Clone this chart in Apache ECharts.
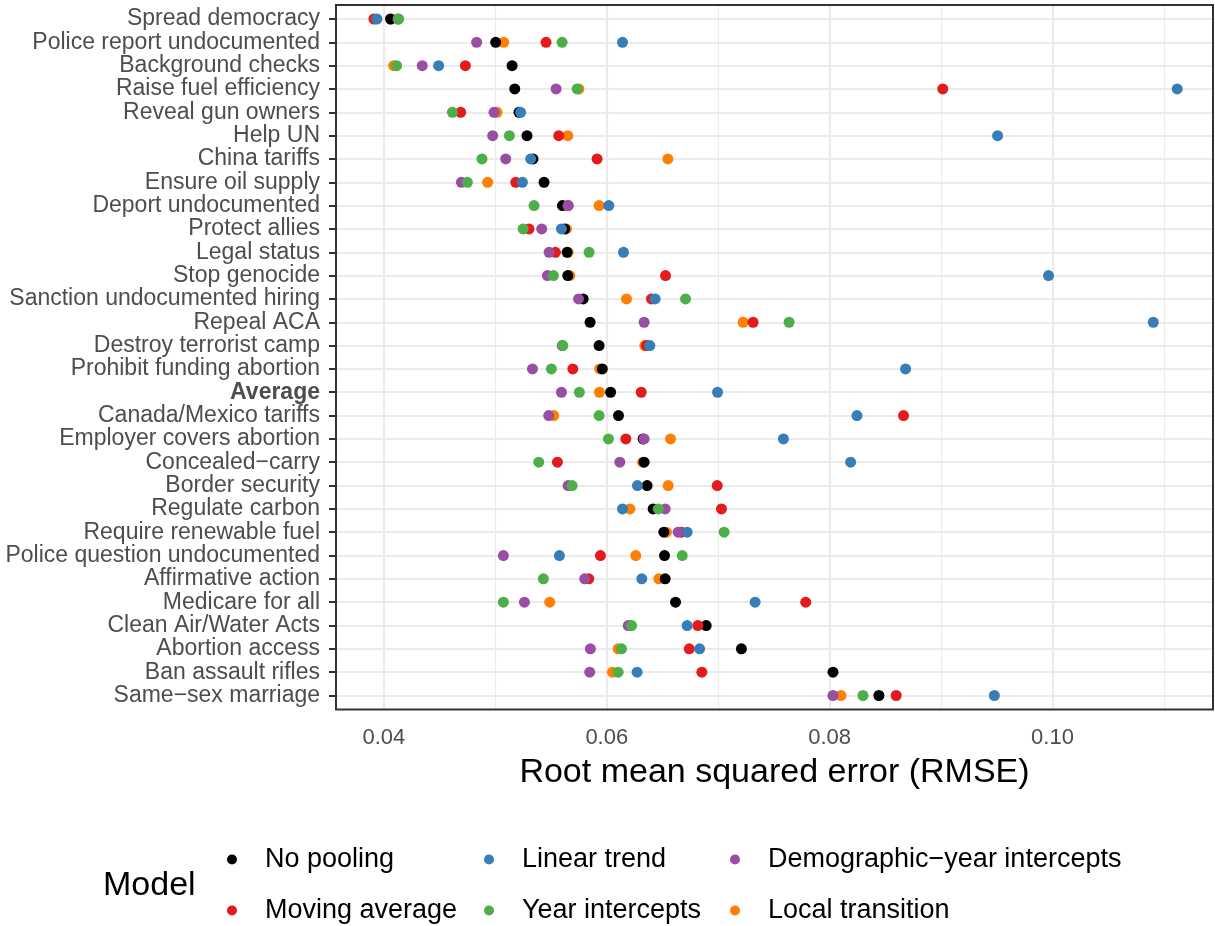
<!DOCTYPE html>
<html>
<head>
<meta charset="utf-8">
<script src="https://cdn.jsdelivr.net/npm/echarts@6/dist/echarts.min.js"></script>
<style>
html,body{margin:0;padding:0;background:#fff;}
#chart{width:1215px;height:926px;}
</style>
</head>
<body>
<div id="chart"></div>
<script>
// ---------- data ----------
const categories = [
  "Spread democracy","Police report undocumented","Background checks","Raise fuel efficiency",
  "Reveal gun owners","Help UN","China tariffs","Ensure oil supply","Deport undocumented",
  "Protect allies","Legal status","Stop genocide","Sanction undocumented hiring","Repeal ACA",
  "Destroy terrorist camp","Prohibit funding abortion","Average","Canada/Mexico tariffs",
  "Employer covers abortion","Concealed\u2212carry","Border security","Regulate carbon",
  "Require renewable fuel","Police question undocumented","Affirmative action","Medicare for all",
  "Clean Air/Water Acts","Abortion access","Ban assault rifles","Same\u2212sex marriage"
];
const noPooling = [0.04060,0.05003,0.05150,0.05174,0.05212,0.05284,0.05338,0.05437,0.05602,0.05623,
  0.05644,0.05650,0.05788,0.05850,0.05931,0.05960,0.06034,0.06105,0.06326,0.06335,
  0.06362,0.06416,0.06512,0.06518,0.06524,0.06617,0.06892,0.07208,0.08030,0.08442];
const movingAverage = [0.03910,0.05455,0.04731,0.09015,0.04689,0.05569,0.05913,0.05183,0.05653,0.05302,
  0.05539,0.06527,0.06401,0.07313,0.06356,0.05695,0.06309,0.08663,0.06171,0.05557,
  0.06991,0.07029,0.06670,0.05943,0.05838,0.07785,0.06817,0.06740,0.06853,0.08597];
const linearTrend = [0.03937,0.06141,0.04491,0.11119,0.05227,0.09507,0.05317,0.05243,0.06018,0.05593,
  0.06150,0.09964,0.06434,0.10904,0.06386,0.08681,0.06994,0.08245,0.07585,0.08188,
  0.06275,0.06141,0.06721,0.05575,0.06314,0.07331,0.06721,0.06833,0.06272,0.09478];
const yearIntercepts = [0.04132,0.05599,0.04114,0.05734,0.04614,0.05126,0.04880,0.04749,0.05347,0.05249,
  0.05841,0.05521,0.06707,0.07636,0.05605,0.05503,0.05754,0.05931,0.06015,0.05389,
  0.05689,0.06462,0.07053,0.06677,0.05431,0.05072,0.06222,0.06132,0.06102,0.08299];
const demographicYear = [0.04126,0.04832,0.04344,0.05545,0.04988,0.04976,0.05093,0.04695,0.05653,0.05416,
  0.05482,0.05467,0.05746,0.06335,0.05600,0.05333,0.05593,0.05479,0.06335,0.06117,
  0.05653,0.06524,0.06640,0.05072,0.05802,0.05261,0.06192,0.05853,0.05847,0.08030];
const localTransition = [0.04060,0.05075,0.04087,0.05749,0.05015,0.05650,0.06548,0.04931,0.05931,0.05638,
  0.05653,0.05668,0.06177,0.07224,0.06341,0.05936,0.05934,0.05524,0.06572,0.06321,
  0.06551,0.06207,0.06536,0.06260,0.06467,0.05488,0.06210,0.06102,0.06051,0.08101];
const xTicks = [0.04, 0.06, 0.08, 0.10];
const xMinorGrid = [0.05, 0.07, 0.09, 0.11];
const modelNames = ["No pooling","Moving average","Linear trend","Year intercepts","Demographic\u2212year intercepts","Local transition"];

// ---------- styling ----------
const FONT = "'Liberation Sans', Arial, Helvetica, sans-serif";
const colors = {
  "No pooling":"#000000","Moving average":"#E41A1C","Linear trend":"#377EB8",
  "Year intercepts":"#4DAF4A","Demographic\u2212year intercepts":"#984EA3","Local transition":"#FF7F00"
};
const G = {left:336, right:2, top:5, bottom:216.5};
const W = 1215, H = 926;

const seriesValues = {
  "No pooling": noPooling, "Moving average": movingAverage, "Linear trend": linearTrend,
  "Year intercepts": yearIntercepts, "Demographic\u2212year intercepts": demographicYear,
  "Local transition": localTransition
};
// drawing order (bottom -> top)
const drawOrder = ["Local transition","No pooling","Moving average","Linear trend","Demographic\u2212year intercepts","Year intercepts"];

const catIdx = categories.map((c, i) => i);
const gridLineColor = '#ebebeb';
const markData = [];
catIdx.forEach(i => markData.push({yAxis: i, lineStyle:{color:gridLineColor, width:2.2, type:'solid'}}));
xMinorGrid.forEach(v => markData.push({xAxis: v, lineStyle:{color:gridLineColor, width:1.1, type:'solid'}}));
xTicks.forEach(v => markData.push({xAxis: v, lineStyle:{color:gridLineColor, width:2.2, type:'solid'}}));

const series = [{
  type:'scatter', name:'_grid', data:[], z:1, silent:true,
  markLine:{silent:true, z:1, symbol:['none','none'], label:{show:false}, animation:false, data:markData}
}];
drawOrder.forEach((name, k) => {
  series.push({
    type:'scatter', name:name, z:10+k, symbol:'circle', symbolSize:11,
    itemStyle:{color:colors[name], opacity:1},
    emphasis:{disabled:true},
    data: categories.map((c,i) => [seriesValues[name][i], i])
  });
});

const legendPos = [
  {name:"No pooling", left:227, top:846},
  {name:"Linear trend", left:484, top:846},
  {name:"Demographic\u2212year intercepts", left:730, top:846},
  {name:"Moving average", left:227, top:897},
  {name:"Year intercepts", left:484, top:897},
  {name:"Local transition", left:730, top:897}
];
const legends = legendPos.map(p => ({
  data:[p.name], left:p.left, top:p.top, orient:'horizontal', padding:0,
  icon:'circle', itemWidth:10, itemHeight:10, selectedMode:false,
  textStyle:{fontSize:27, color:'#000', fontFamily:FONT, padding:[0,0,0,23]}
}));

const option = {
  animation:false,
  backgroundColor:'#ffffff',
  textStyle:{fontFamily:FONT},
  grid:{left:G.left, right:G.right, top:G.top, bottom:G.bottom, containLabel:false, show:false},
  xAxis:{
    type:'value', min:0.0357, max:0.1144,
    axisLine:{show:false},
    splitLine:{show:false},
    axisTick:{show:true, length:7, customValues:xTicks, lineStyle:{color:'#333333', width:2}},
    axisLabel:{customValues:xTicks, fontSize:22, color:'#4d4d4d', margin:17, fontFamily:FONT,
      formatter: v => v.toFixed(2)},
    name:'Root mean squared error (RMSE)', nameLocation:'middle', nameGap:46,
    nameTextStyle:{fontSize:34, color:'#000', fontFamily:FONT}
  },
  yAxis:{
    type:'value', min:-0.6, max:categories.length - 0.4, inverse:true,
    axisLine:{show:false},
    splitLine:{show:false},
    axisTick:{show:true, customValues:catIdx, length:7, lineStyle:{color:'#333333', width:2}},
    axisLabel:{customValues:catIdx, fontSize:23, color:'#4d4d4d', margin:16, fontFamily:FONT,
      formatter: v => { const c = categories[Math.round(v)]; return c === 'Average' ? '{b|Average}' : c; },
      rich:{b:{fontWeight:'bold', fontSize:23, color:'#4d4d4d', fontFamily:FONT}}}
  },
  legend: legends,
  graphic:[
    {type:'rect', z:100, silent:true,
     shape:{x:G.left, y:G.top, width:W-G.left-G.right, height:H-G.top-G.bottom},
     style:{fill:null, stroke:'#333333', lineWidth:2}},
    {type:'text', left:103, top:869, silent:true,
     style:{text:'Model', fontSize:34, fill:'#000', fontFamily:FONT}}
  ],
  series: series
};

const chart = echarts.init(document.getElementById('chart'), null, {renderer:'canvas'});
chart.setOption(option);
</script>
</body>
</html>
